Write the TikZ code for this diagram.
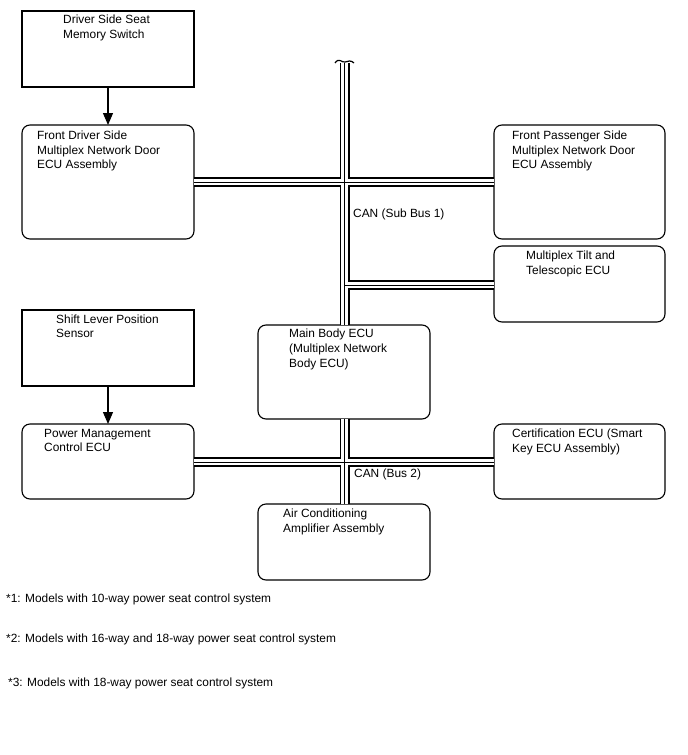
\documentclass[tikz,border=0pt]{standalone}
\usepackage{fontspec}
\setmainfont{Liberation Sans}
\usetikzlibrary{arrows.meta}
\begin{document}
\begin{tikzpicture}[x=1pt,y=-1pt,
  box/.style={draw,line width=1.1pt},
  rbox/.style={draw,line width=1.1pt,rounded corners=8pt},
  lbl/.style={anchor=north west,inner sep=0pt,align=left,font=\fontsize{11.9}{14.2}\selectfont},
  flow/.style={line width=1.2pt,-{Triangle[length=12pt,width=10pt]}},
  busA/.style={line width=10pt,black},
  busB/.style={line width=6.6pt,white},
  busC/.style={line width=0.9pt,black}]
\useasboundingbox (0,0) rectangle (688,755);
% boxes
\draw[box] (22,11) rectangle (194,87);
\node[lbl] (mss) at (63,15) {Driver Side Seat\\Memory Switch};
\draw[rbox] (22,125) rectangle (194,239);
\coordinate (fdE) at (194,182);
\node[lbl] (fdt) at (37,131) {Front Driver Side\\Multiplex Network Door\\ECU Assembly};
\draw[rbox] (494,125) rectangle (665,239);
\coordinate (fpW) at (494,182);
\node[lbl] (fpt) at (512,131) {Front Passenger Side\\Multiplex Network Door\\ECU Assembly};
\draw[rbox] (494,246) rectangle (665,322);
\coordinate (tiW) at (494,285);
\node[lbl] (tit) at (526,251) {Multiplex Tilt and\\Telescopic ECU};
\draw[box] (22,310) rectangle (194,386);
\node[lbl] (slt) at (56,314.5) {Shift Lever Position\\Sensor};
\draw[rbox] (22,424) rectangle (194,499);
\coordinate (pmE) at (194,462);
\node[lbl] (pmt) at (44,429) {Power Management\\Control ECU};
\draw[rbox] (258,325) rectangle (430,419);
\coordinate (mbN) at (344.5,325);
\coordinate (mbS) at (344.5,419);
\node[lbl,font=\fontsize{11.9}{15}\selectfont] (mbt) at (289,329) {Main Body ECU\\(Multiplex Network\\Body ECU)};
\draw[rbox] (494,424) rectangle (665,499);
\coordinate (ceW) at (494,462);
\node[lbl] (cet) at (512,429) {Certification ECU (Smart\\Key ECU Assembly)};
\draw[rbox] (258,504) rectangle (430,580);
\coordinate (acN) at (344.5,504);
\node[lbl] (act) at (283,509) {Air Conditioning\\Amplifier Assembly};
% arrows
\draw[flow] (108,87) -- (108,125);
\draw[flow] (108,386) -- (108,424);
% buses
\coordinate (top) at (344.5,63);
\coordinate (j1) at (344.5,182);
\coordinate (j2) at (344.5,285);
\coordinate (j3) at (344.5,462);
\foreach \s in {busA,busB,busC}{
  \draw[\s] (top) -- (mbN);
  \draw[\s] (fdE) -- (fpW);
  \draw[\s] (j2) -- (tiW);
  \draw[\s] (mbS) -- (acN);
  \draw[\s] (pmE) -- (ceW);
}
\draw[line width=1.2pt] (335,63) .. controls (339,57) and (342,63) .. (345,62) .. controls (348,61) and (351,60) .. (354,63);
% bus labels
\node[lbl] (can1) at (353,208.5) {CAN (Sub Bus 1)};
\node[lbl] (can2) at (354,469) {CAN (Bus 2)};
% footnotes
\node[lbl] (n1) at (6,594) {*1: Models with 10-way power seat control system};
\node[lbl] (n2) at (6,634) {*2: Models with 16-way and 18-way power seat control system};
\node[lbl] (n3) at (8,678) {*3: Models with 18-way power seat control system};
\end{tikzpicture}
\end{document}
